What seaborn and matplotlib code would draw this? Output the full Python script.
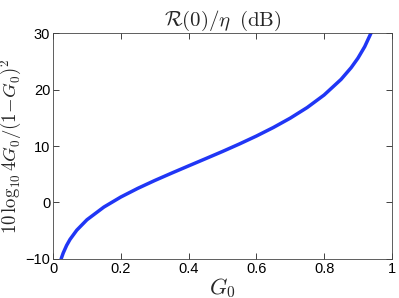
import matplotlib

matplotlib.use("Agg")
import matplotlib.pyplot as plt
import pandas as pd
import seaborn as sns

# values
g0 = [0.02, 0.025, 0.03, 0.04, 0.05, 0.07, 0.10, 0.15, 0.20, 0.25, 0.30, 0.35,
      0.40, 0.45, 0.50, 0.55, 0.60, 0.65, 0.70, 0.75, 0.80, 0.85, 0.88, 0.90,
      0.92, 0.94, 0.95]
ratio_db = [-10.8, -9.78, -8.94, -7.60, -6.54, -4.90, -3.06, -0.81, 0.97, 2.50,
            3.89, 5.20, 6.48, 7.75, 9.03, 10.36, 11.76, 13.27, 14.93, 16.81,
            19.03, 21.79, 23.88, 25.56, 27.60, 30.19, 31.8]
x_ticks = [0, 0.2, 0.4, 0.6, 0.8, 1]
x_labels = ["0", "0.2", "0.4", "0.6", "0.8", "1"]
y_ticks = [-10, 0, 10, 20, 30]
y_labels = ["\u221210", "0", "10", "20", "30"]

df = pd.DataFrame({"G0": g0, "dB": ratio_db})

sns.set_style("ticks")
plt.rcParams["font.family"] = ["Liberation Sans", "DejaVu Sans"]
plt.rcParams["mathtext.fontset"] = "cm"

fig = plt.figure(figsize=(3.99, 2.98), dpi=100)
ax = fig.add_axes([0.133, 0.131, 0.849, 0.758])
sns.lineplot(data=df, x="G0", y="dB", color="#2036f5", linewidth=2.5, ax=ax)

ax.set_xlim(0, 1)
ax.set_ylim(-10, 30)
ax.set_xticks(x_ticks, x_labels)
ax.set_yticks(y_ticks, y_labels)
ax.tick_params(direction="in", length=4, width=0.6, labelsize=10.5, pad=2,
               top=True, right=True, colors="#222222", labelcolor="black")
for s in ax.spines.values():
    s.set_linewidth(0.6)
    s.set_color("#444444")

ax.set_title(r"$\mathcal{R}(0)/\eta\;\;\mathrm{(dB)}$", fontsize=15, pad=5)
ax.set_xlabel(r"$G_0$", fontsize=16, labelpad=0)
ax.set_ylabel(r"$10\,\log_{10}4G_0/(1\!-\!G_0)^2$", fontsize=13.5, labelpad=1)

fig.savefig("out.png", dpi=100)
plt.close(fig)
